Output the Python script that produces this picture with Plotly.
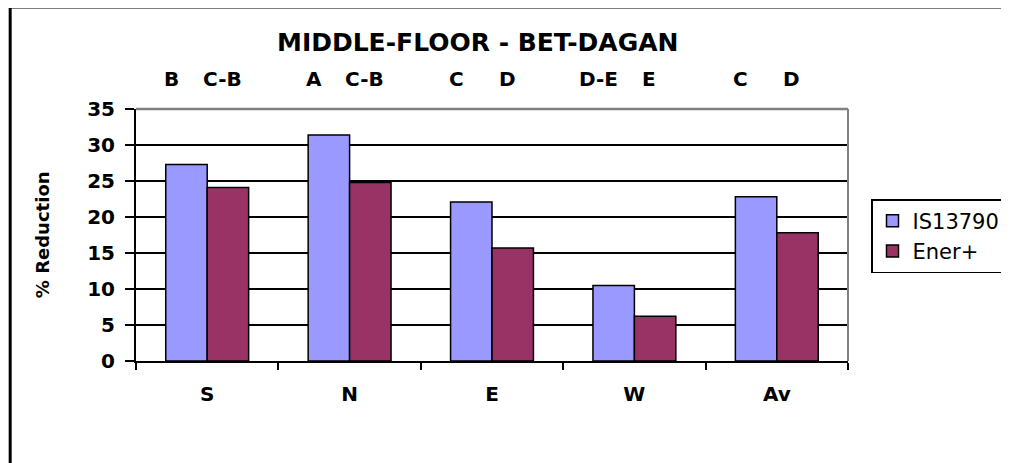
import plotly.graph_objects as go

# ---- data ----
categories = ["S", "N", "E", "W", "Av"]
is13790 = [27.3, 31.4, 22.1, 10.5, 22.8]
ener_plus = [24.1, 24.8, 15.7, 6.2, 17.8]
grade_is = ["B", "A", "C", "D-E", "C"]
grade_ener = ["C-B", "C-B", "D", "E", "D"]
series_names = ["IS13790", "Ener+"]
title_text = "MIDDLE-FLOOR - BET-DAGAN"
y_title = "% Reduction"
y_ticks = [0, 5, 10, 15, 20, 25, 30, 35]

# ---- layout geometry (target pixels on the screenshot) ----
W, H = 1009, 463
OFF = 8  # page body margin
L, R, T, B = 136, 849, 109, 361


def px_x(p):
    return (p - L) / (R - L)


def px_y(p):
    return (B - p) / (B - T)


FONT = "DejaVu Sans"

fig = go.Figure()
fig.add_trace(go.Bar(x=categories, y=is13790, name=series_names[0],
                     marker=dict(color="#9999FF", line=dict(color="black", width=1.5))))
fig.add_trace(go.Bar(x=categories, y=ener_plus, name=series_names[1],
                     marker=dict(color="#993366", line=dict(color="black", width=1.5))))

annotations = [
    dict(text=title_text, xref="paper", yref="paper", x=px_x(478), y=px_y(42),
         showarrow=False, xanchor="center", yanchor="middle",
         font=dict(family=FONT, size=25, color="black", weight="bold")),
    dict(text=y_title, xref="paper", yref="paper", x=px_x(42), y=0.5, textangle=-90,
         showarrow=False, xanchor="center", yanchor="middle",
         font=dict(family=FONT, size=18, color="black", weight="bold")),
]
for i, c in enumerate(categories):
    annotations.append(dict(text=grade_is[i], xref="x", yref="paper", x=c, y=px_y(79),
                            xshift=-36, showarrow=False, xanchor="center", yanchor="middle",
                            font=dict(family=FONT, size=20, color="black", weight="bold")))
    annotations.append(dict(text=grade_ener[i], xref="x", yref="paper", x=c, y=px_y(79),
                            xshift=15, showarrow=False, xanchor="center", yanchor="middle",
                            font=dict(family=FONT, size=20, color="black", weight="bold")))

shapes = [
    # outer chart border
    dict(type="rect", xref="paper", yref="paper", x0=px_x(10), y0=-1.0, x1=1.6, y1=px_y(7),
         line=dict(color="black", width=3), fillcolor="rgba(0,0,0,0)", layer="above"),
    # plot-area border (top & right, gray)
    dict(type="line", xref="paper", yref="paper", x0=0, y0=1, x1=1, y1=1,
         line=dict(color="#808080", width=2.5), layer="above"),
    dict(type="line", xref="paper", yref="paper", x0=1, y0=0, x1=1, y1=1,
         line=dict(color="#808080", width=2), layer="above"),
]

fig.update_layout(
    width=W, height=H, autosize=False,
    margin=dict(l=L - OFF, r=W - (R - OFF), t=T - OFF, b=H - (B - OFF), pad=0),
    paper_bgcolor="white", plot_bgcolor="white",
    barmode="group", bargap=0.418, bargroupgap=0,
    showlegend=True,
    legend=dict(x=px_x(871), y=px_y(199), xanchor="left", yanchor="top",
                bgcolor="white", bordercolor="black", borderwidth=1.5,
                font=dict(family=FONT, size=21, color="black"),
                itemwidth=30),
    annotations=annotations,
    shapes=shapes,
    font=dict(family=FONT, color="black"),
)
fig.update_yaxes(range=[0, 35], tickvals=y_ticks, ticks="outside", ticklen=9, tickwidth=2,
                 tickcolor="black", showline=True, linecolor="black", linewidth=2,
                 showgrid=True, gridcolor="black", gridwidth=1.5, zeroline=False,
                 ticklabelstandoff=6,
                 tickfont=dict(family=FONT, size=20, color="black", weight="bold"))
fig.update_xaxes(tickson="boundaries", ticks="outside", ticklen=7, tickwidth=2,
                 tickcolor="black", showline=True, linecolor="black", linewidth=2,
                 showgrid=False, zeroline=False, ticklabelstandoff=14,
                 tickfont=dict(family=FONT, size=20, color="black", weight="bold"))

fig.write_html("out.html")
